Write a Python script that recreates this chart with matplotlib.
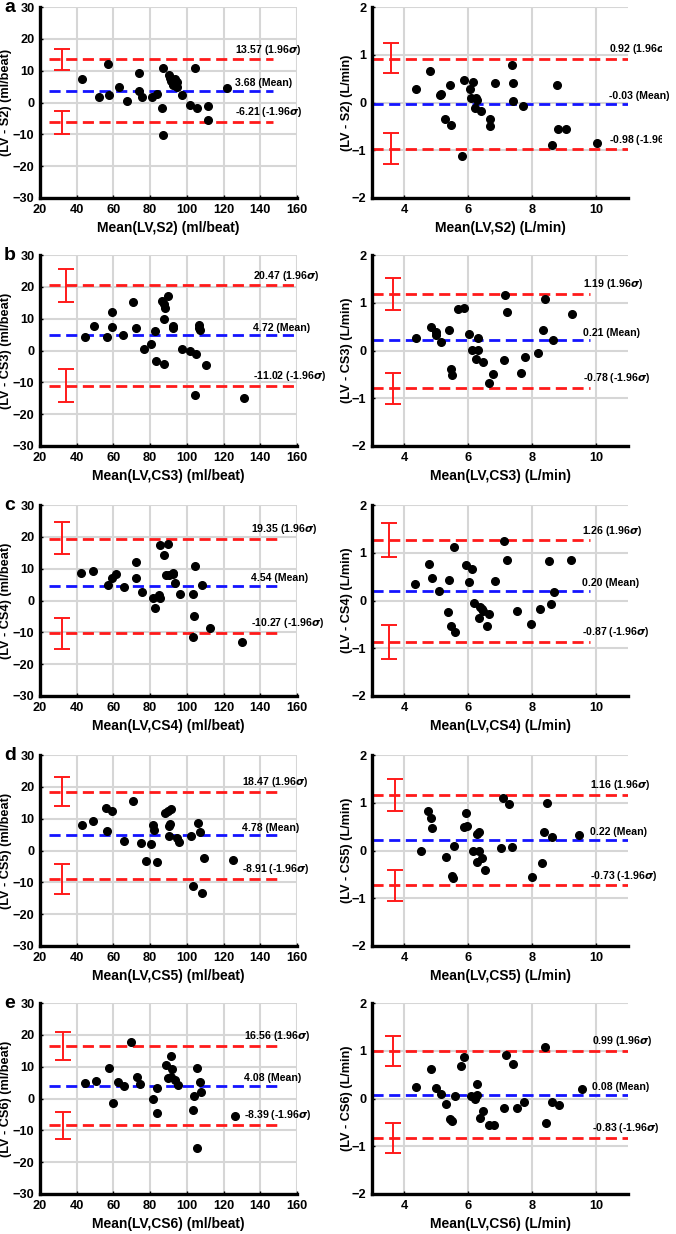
import numpy as np
import matplotlib.pyplot as plt
from matplotlib.transforms import Bbox

plt.rcParams['font.family'] = ['Liberation Sans', 'DejaVu Sans']
plt.rcParams['font.weight'] = 'bold'
plt.rcParams['axes.labelweight'] = 'bold'

# panel names
letters = ['a', 'b', 'c', 'd', 'e']
sources = ['S2', 'CS3', 'CS4', 'CS5', 'CS6']

# stroke volume (ml/beat): mean of the two methods and their difference
a_sv_x = [43.1, 52.4, 56.9, 57.8, 62.9, 67.3, 74.0, 74.2, 75.8, 80.9, 84.0, 86.2, 87.1, 86.9, 90.2,
          90.7, 91.6, 92.7, 93.5, 94.4, 94.9, 92.4, 97.1, 101.8, 104.5, 105.3, 111.3, 111.5, 121.6]
a_sv_y = [7.5, 1.8, 12.1, 2.5, 4.9, 0.5, 9.2, 3.5, 1.8, 1.6, 2.8, -1.8, 10.7, -10.3, 8.7,
          7.6, 6.8, 5.8, 7.3, 6.3, 4.9, 5.5, 2.2, -0.8, 10.8, -1.6, -1.2, -5.5, 4.4]
b_sv_x = [44.5, 49.5, 56.7, 59.1, 59.1, 65.1, 70.9, 72.4, 76.4, 80.7, 82.5, 83.3, 86.2, 87.5, 88.0,
          87.5, 87.5, 89.5, 92.2, 92.7, 97.1, 101.5, 104.9, 104.7, 106.4, 106.7, 107.0, 110.7, 130.9]
b_sv_y = [4.3, 7.8, 4.3, 12.1, 7.4, 4.8, 15.1, 7.1, 0.6, 1.9, 6.0, -3.4, 15.6, 14.7, 13.3,
          10.0, -4.3, 17.0, 7.8, 7.2, 0.5, -0.2, -1.0, -13.9, 7.9, 7.1, 6.4, -4.6, -14.8]
c_sv_x = [42.5, 48.7, 56.9, 59.3, 61.3, 65.5, 72.4, 72.5, 75.3, 81.5, 82.9, 84.7, 85.1, 85.3, 87.5,
          88.5, 89.5, 90.4, 92.2, 92.5, 93.6, 96.4, 103.1, 103.6, 104.0, 104.5, 108.0, 112.5, 130.0]
c_sv_y = [8.5, 9.2, 4.9, 7.0, 8.3, 4.3, 7.1, 12.0, 2.6, 0.7, -2.4, 1.8, 0.7, 17.5, 14.2,
          8.1, 17.6, 8.1, 8.3, 8.5, 5.4, 2.0, 2.0, -11.5, -5.0, 10.9, 4.9, -8.5, -12.9]
d_sv_x = [42.7, 48.7, 56.0, 59.1, 56.4, 66.0, 70.9, 74.9, 78.0, 80.7, 81.5, 82.2, 83.6, 88.2,
          90.0, 90.4, 90.4, 90.9, 91.6, 94.4, 95.8, 102.2, 103.1, 106.2, 107.1, 108.2, 109.6, 125.3]
d_sv_y = [8.1, 9.2, 13.5, 12.3, 6.1, 2.9, 15.6, 2.4, -3.2, 2.0, 8.1, 6.4, -3.7, 11.8,
          12.3, 4.5, 7.6, 8.3, 12.9, 4.0, 2.8, 4.5, -11.1, 8.6, 5.7, -13.5, -2.3, -2.9]
e_sv_x = [44.5, 50.5, 57.8, 60.0, 62.7, 65.5, 69.8, 72.7, 74.4, 81.6, 83.6, 84.0, 88.7,
          89.6, 91.5, 91.8, 91.6, 93.5, 95.3, 103.1, 103.8, 105.6, 105.5, 107.3, 107.6, 126.4]
e_sv_y = [4.8, 5.4, 9.7, -1.3, 5.1, 4.0, 17.8, 6.6, 4.6, 0.0, 3.4, -4.5, 10.5,
          6.3, 13.2, 9.2, 6.8, 5.8, 4.2, -3.6, 0.9, 9.6, -15.7, 5.2, 1.9, -5.4]

# cardiac output (L/min)
a_co_x = [4.37, 4.82, 5.12, 5.15, 5.28, 5.44, 5.46, 5.82, 5.89, 6.07, 6.10, 6.16, 6.22, 6.26,
          6.29, 6.41, 6.69, 6.69, 6.85, 7.38, 7.42, 7.41, 7.73, 8.61, 8.77, 8.82, 9.05, 10.03]
a_co_y = [0.28, 0.66, 0.15, 0.18, -0.34, 0.36, -0.48, -1.12, 0.48, 0.28, 0.10, 0.43, -0.12, 0.09,
          0.05, -0.17, -0.35, -0.50, 0.40, 0.78, 0.41, 0.03, -0.07, -0.89, 0.36, -0.56, -0.56, -0.84]
b_co_x = [4.38, 4.85, 5.00, 5.00, 5.15, 5.41, 5.46, 5.49, 5.70, 5.88, 6.03, 6.13, 6.25, 6.31,
          6.31, 6.47, 6.67, 6.77, 7.13, 7.16, 7.23, 7.66, 7.79, 8.20, 8.35, 8.42, 8.66, 9.24]
b_co_y = [0.27, 0.49, 0.38, 0.32, 0.17, 0.43, -0.38, -0.52, 0.86, 0.89, 0.34, 0.02, -0.17, 0.27,
          0.02, -0.24, -0.68, -0.50, -0.19, 1.17, 0.81, -0.47, -0.14, -0.05, 0.43, 1.07, 0.23, 0.77]
c_co_x = [4.34, 4.77, 4.87, 5.10, 5.37, 5.41, 5.48, 5.57, 5.60, 5.93, 6.02, 6.11, 6.19, 6.33, 6.39,
          6.44, 6.48, 6.60, 6.67, 6.85, 7.13, 7.22, 7.54, 7.97, 8.26, 8.54, 8.60, 8.68, 9.22]
c_co_y = [0.34, 0.77, 0.48, 0.19, -0.25, 0.42, -0.54, 1.13, -0.66, 0.75, 0.38, 0.66, -0.06, -0.36, -0.13,
          -0.17, -0.21, -0.54, -0.29, 0.40, 1.25, 0.84, -0.22, -0.49, -0.17, 0.82, -0.08, 0.17, 0.84]
d_co_x = [4.52, 4.74, 4.85, 4.87, 5.32, 5.49, 5.54, 5.57, 5.89, 5.93, 5.96, 6.16, 6.28, 6.27,
          6.34, 6.34, 6.44, 6.52, 7.02, 7.09, 7.29, 7.38, 8.00, 8.31, 8.38, 8.47, 8.62, 9.46]
d_co_y = [-0.01, 0.83, 0.69, 0.48, -0.14, -0.54, -0.58, 0.09, 0.50, 0.78, 0.52, -0.02, -0.24, 0.35,
          0.38, -0.01, -0.15, -0.40, 0.06, 1.10, 0.97, 0.08, -0.55, -0.26, 0.38, 1.00, 0.29, 0.33]
e_co_x = [4.38, 4.85, 5.00, 5.15, 5.31, 5.43, 5.49, 5.60, 5.79, 5.88, 6.10, 6.21, 6.27, 6.29,
          6.37, 6.47, 6.65, 6.80, 7.13, 7.18, 7.40, 7.53, 7.75, 8.42, 8.43, 8.61, 8.84, 9.56]
e_co_y = [0.25, 0.61, 0.21, 0.09, -0.12, -0.42, -0.47, 0.05, 0.68, 0.87, 0.06, -0.01, 0.30, 0.07,
          -0.41, -0.26, -0.56, -0.56, -0.20, 0.91, 0.73, -0.20, -0.07, 1.08, -0.51, -0.08, -0.14, 0.19]

sv_x = [a_sv_x, b_sv_x, c_sv_x, d_sv_x, e_sv_x]
sv_y = [a_sv_y, b_sv_y, c_sv_y, d_sv_y, e_sv_y]
co_x = [a_co_x, b_co_x, c_co_x, d_co_x, e_co_x]
co_y = [a_co_y, b_co_y, c_co_y, d_co_y, e_co_y]

# limits of agreement
sv_upper = [13.57, 20.47, 19.35, 18.47, 16.56]
sv_mean = [3.68, 4.72, 4.54, 4.78, 4.08]
sv_lower = [-6.21, -11.02, -10.27, -8.91, -8.39]
co_upper = [0.92, 1.19, 1.26, 1.16, 0.99]
co_mean = [-0.03, 0.21, 0.20, 0.22, 0.08]
co_lower = [-0.98, -0.78, -0.87, -0.73, -0.83]

# confidence intervals of the limits (low, high)
sv_upper_ci = [(10.3, 16.9), (15.3, 25.7), (14.5, 24.6), (14.0, 23.2), (12.0, 20.9)]
sv_lower_ci = [(-9.8, -2.8), (-16.2, -5.8), (-15.3, -5.35), (-13.8, -4.2), (-12.7, -4.2)]
co_upper_ci = [(0.625, 1.25), (0.857, 1.52), (0.92, 1.63), (0.83, 1.49), (0.68, 1.30)]
co_lower_ci = [(-1.28, -0.64), (-1.115, -0.467), (-1.23, -0.51), (-1.06, -0.41), (-1.15, -0.52)]

# layout helpers
W, H = 676, 1234
tops = [7, 255, 505, 755, 1003]
ax_h = 191
sv_line_end = [147, 160, 152, 152, 152]
co_line_end = [11, 9.8, 9.8, 11, 11]
sv_text_x = [126, 136, 135, 130, 131]
co_text_x = [10.41, 9.59, 9.56, 9.81, 9.87]
sv_bar_x = [31.8, 34.4, 31.8, 31.8, 32.5]
co_bar_x = [3.6, 3.66, 3.53, 3.73, 3.66]
# the sigma labels of the top right panel are cut at the image edge
sigma_clip = [None, None, None, None, None]
co_sigma_clip = [662, None, None, None, None]


def style_axes(ax):
    ax.spines['top'].set_visible(False)
    ax.spines['right'].set_visible(False)
    ax.spines['left'].set_linewidth(2.4)
    ax.spines['bottom'].set_linewidth(2.4)
    ax.grid(True, color='#d6d6d6', linewidth=1.5)
    ax.set_axisbelow(True)
    ax.tick_params(direction='in', length=2, width=1, labelsize=9.2, pad=4)


def draw_panel(ax, x, y, lims, cis, bar_x, x0, x1, tx, clip_px, unit, src):
    up, mn, lo = lims
    ax.hlines([up, lo], x0, x1, colors='#ff1a1a', linestyles=(0, (4, 2)), linewidth=2, zorder=2)
    ax.hlines(mn, x0, x1, colors='#1414ff', linestyles=(0, (4, 2)), linewidth=2, zorder=2)
    for c in cis:
        ax.errorbar(bar_x, (c[0] + c[1]) / 2, yerr=(c[1] - c[0]) / 2, fmt='none',
                    ecolor='#ff1a1a', elinewidth=1.4, capsize=5.5, capthick=1.4, zorder=3)
    ax.plot(x, y, 'o', color='black', markersize=5.5, zorder=4)
    texts = ['{:.2f}'.format(up) + r' (1.96$\sigma$)', '{:.2f}'.format(mn) + ' (Mean)',
             '{:.2f}'.format(lo) + r' (-1.96$\sigma$)']
    for k, (val, t) in enumerate(zip([up, mn, lo], texts)):
        an = ax.annotate(t, (tx, val), xytext=(0, 2), textcoords='offset points',
                         fontsize=7.6, fontweight='bold', va='bottom', ha='left',
                         annotation_clip=False)
        if clip_px is not None and k != 1:
            an.set_clip_box(Bbox([[0, 0], [clip_px, H]]))
            an.set_clip_on(True)
    ax.set_xlabel('Mean(LV,%s) (%s)' % (src, unit), fontsize=10, labelpad=4)
    ax.set_ylabel('(LV - %s) (%s)' % (src, unit), fontsize=9.2)


fig = plt.figure(figsize=(W / 100, H / 100), dpi=100)

for i in range(5):
    bottom = 1 - (tops[i] + ax_h) / H
    # stroke volume panel
    ax = fig.add_axes([40 / W, bottom, 257 / W, ax_h / H])
    style_axes(ax)
    draw_panel(ax, sv_x[i], sv_y[i], (sv_upper[i], sv_mean[i], sv_lower[i]),
               [sv_upper_ci[i], sv_lower_ci[i]], sv_bar_x[i], 25, sv_line_end[i], sv_text_x[i],
               sigma_clip[i], 'ml/beat', sources[i])
    ax.set_xlim(20, 160)
    ax.set_ylim(-30, 30)
    ax.set_xticks(np.arange(20, 161, 20))
    ax.set_yticks(np.arange(-30, 31, 10))
    ax.yaxis.set_label_coords(-0.108, 0.5)

    # cardiac output panel
    ax2 = fig.add_axes([372 / W, bottom, 256 / W, ax_h / H])
    style_axes(ax2)
    draw_panel(ax2, co_x[i], co_y[i], (co_upper[i], co_mean[i], co_lower[i]),
               [co_upper_ci[i], co_lower_ci[i]], co_bar_x[i], 3, co_line_end[i], co_text_x[i],
               co_sigma_clip[i], 'L/min', sources[i])
    ax2.set_xlim(3, 11)
    ax2.set_ylim(-2, 2)
    ax2.set_xticks([4, 6, 8, 10])
    ax2.set_yticks([-2, -1, 0, 1, 2])
    ax2.yaxis.set_label_coords(-0.075, 0.5)

    fig.text(4 / W, 1 - (tops[i] + 1) / H, letters[i], fontsize=14, fontweight='bold',
             va='center', ha='left')

fig.savefig('out.png', dpi=100)
